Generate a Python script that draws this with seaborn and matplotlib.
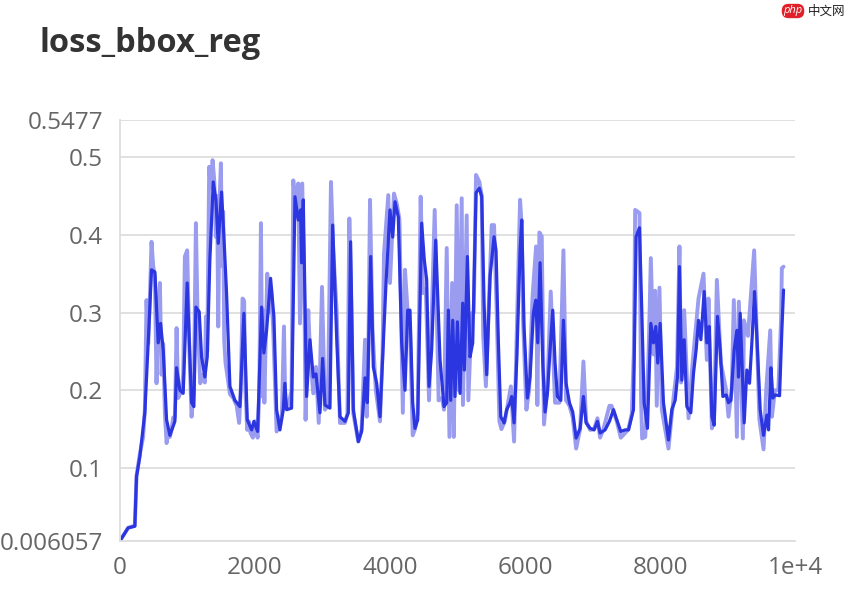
import numpy as np
import pandas as pd
import matplotlib
matplotlib.use("Agg")
import matplotlib.pyplot as plt
import seaborn as sns

# smoothed curve (step, value)
smooth_steps = [0, 123, 222, 247, 296, 370, 420, 469, 519, 568, 603, 642, 692, 741, 815, 840,
                889, 938, 997, 1062, 1096, 1126, 1175, 1210, 1259, 1294, 1333, 1383, 1422, 1457,
                1506, 1541, 1580, 1630, 1704, 1778, 1837, 1886, 1951, 1985, 2040, 2099, 2133, 2173,
                2232, 2281, 2321, 2370, 2420, 2444, 2469, 2543, 2593, 2642, 2677, 2691, 2716, 2765,
                2815, 2864, 2904, 2963, 3003, 3037, 3111, 3151, 3210, 3259, 3333, 3383, 3417, 3457,
                3531, 3580, 3630, 3664, 3714, 3753, 3803, 3852, 3941, 4000, 4040, 4074, 4123, 4173,
                4222, 4262, 4296, 4336, 4370, 4410, 4469, 4508, 4543, 4578, 4617, 4677, 4741, 4800,
                4840, 4864, 4899, 4929, 4963, 4998, 5037, 5077, 5101, 5146, 5185, 5225, 5274, 5323,
                5358, 5393, 5432, 5481, 5541, 5570, 5605, 5640, 5689, 5728, 5778, 5802, 5837, 5877,
                5926, 5951, 5985, 6034, 6074, 6123, 6158, 6188, 6222, 6262, 6296, 6331, 6370, 6410,
                6444, 6479, 6529, 6568, 6607, 6657, 6706, 6756, 6815, 6864, 6904, 6963, 7022, 7072,
                7111, 7185, 7249, 7309, 7358, 7417, 7481, 7531, 7605, 7644, 7694, 7728, 7763, 7812,
                7862, 7901, 7936, 7965, 8000, 8049, 8123, 8173, 8222, 8257, 8286, 8321, 8356, 8395,
                8454, 8494, 8533, 8568, 8603, 8652, 8691, 8726, 8766, 8800, 8849, 8889, 8929, 8978,
                9012, 9047, 9096, 9136, 9160, 9185, 9244, 9284, 9323, 9358, 9397, 9432, 9481, 9531,
                9580, 9605, 9640, 9669, 9704, 9768, 9802, 9827]
smooth_values = [0.006, 0.023, 0.025, 0.089, 0.1145, 0.171, 0.261, 0.355, 0.352, 0.261, 0.286, 0.252,
                 0.162, 0.142, 0.16, 0.229, 0.2, 0.196, 0.338, 0.184, 0.179, 0.307, 0.301, 0.243,
                 0.217, 0.243, 0.368, 0.468, 0.445, 0.389, 0.455, 0.397, 0.325, 0.205, 0.187, 0.179,
                 0.299, 0.162, 0.149, 0.16, 0.147, 0.307, 0.248, 0.277, 0.344, 0.295, 0.175, 0.149,
                 0.175, 0.209, 0.175, 0.177, 0.449, 0.419, 0.432, 0.364, 0.445, 0.192, 0.265, 0.217,
                 0.221, 0.171, 0.241, 0.181, 0.177, 0.4125, 0.269, 0.166, 0.16, 0.171, 0.391, 0.175,
                 0.134, 0.147, 0.216, 0.184, 0.372, 0.23, 0.209, 0.166, 0.338, 0.432, 0.397, 0.4425,
                 0.423, 0.261, 0.2, 0.303, 0.303, 0.184, 0.151, 0.162, 0.415, 0.3675, 0.342, 0.205,
                 0.252, 0.393, 0.239, 0.179, 0.184, 0.303, 0.187, 0.29, 0.192, 0.288, 0.196, 0.312,
                 0.226, 0.372, 0.243, 0.261, 0.454, 0.46, 0.449, 0.312, 0.22, 0.346, 0.3975, 0.38,
                 0.261, 0.166, 0.158, 0.175, 0.184, 0.192, 0.158, 0.239, 0.38, 0.419, 0.282, 0.19,
                 0.217, 0.299, 0.316, 0.261, 0.364, 0.235, 0.172, 0.196, 0.252, 0.303, 0.235, 0.192,
                 0.187, 0.29, 0.209, 0.184, 0.172, 0.1385, 0.151, 0.192, 0.158, 0.151, 0.149, 0.16,
                 0.145, 0.149, 0.16, 0.175, 0.162, 0.147, 0.149, 0.149, 0.175, 0.3975, 0.409, 0.303,
                 0.184, 0.151, 0.286, 0.261, 0.282, 0.235, 0.286, 0.184, 0.136, 0.175, 0.187, 0.217,
                 0.359, 0.213, 0.265, 0.179, 0.171, 0.222, 0.252, 0.29, 0.265, 0.327, 0.261, 0.282,
                 0.166, 0.155, 0.295, 0.252, 0.192, 0.194, 0.184, 0.187, 0.252, 0.277, 0.217, 0.299,
                 0.158, 0.226, 0.209, 0.261, 0.327, 0.269, 0.175, 0.142, 0.168, 0.149, 0.229, 0.19,
                 0.194, 0.193, 0.277, 0.329]

# raw (unsmoothed) curve
raw_steps = [0, 123, 222, 247, 296, 345, 370, 395, 420, 445, 469, 494, 519, 543, 568, 593, 618, 642,
             667, 692, 717, 741, 766, 790, 815, 840, 864, 889, 914, 938, 963, 997, 1030, 1062, 1096,
             1126, 1150, 1190, 1230, 1259, 1274, 1294, 1323, 1348, 1373, 1398, 1422, 1440, 1457, 1476,
             1496, 1516, 1530, 1545, 1565, 1590, 1630, 1680, 1730, 1766, 1790, 1817, 1840, 1860, 1886,
             1910, 1935, 1970, 2000, 2040, 2065, 2089, 2110, 2123, 2140, 2163, 2183, 2210, 2240, 2270,
             2321, 2360, 2400, 2430, 2450, 2494, 2543, 2568, 2600, 2642, 2667, 2701, 2735, 2750, 2790,
             2815, 2864, 2904, 2945, 2993, 3037, 3080, 3126, 3160, 3210, 3259, 3333, 3370, 3398, 3430,
             3457, 3531, 3580, 3630, 3655, 3680, 3704, 3740, 3790, 3852, 3890, 3911, 3975, 4000, 4059,
             4100, 4140, 4190, 4222, 4262, 4296, 4336, 4370, 4410, 4454, 4490, 4530, 4578, 4620, 4662,
             4720, 4770, 4800, 4840, 4880, 4920, 4945, 4988, 5020, 5062, 5080, 5136, 5160, 5210, 5240,
             5274, 5323, 5358, 5380, 5420, 5460, 5506, 5541, 5580, 5620, 5650, 5700, 5760, 5790, 5837,
             5870, 5926, 5951, 5970, 6020, 6060, 6110, 6163, 6182, 6212, 6247, 6280, 6331, 6380, 6444,
             6508, 6568, 6607, 6657, 6706, 6756, 6815, 6864, 6904, 6963, 7022, 7072, 7111, 7160, 7249,
             7280, 7358, 7417, 7481, 7531, 7580, 7610, 7630, 7694, 7718, 7733, 7780, 7830, 7862, 7901,
             7926, 7950, 7990, 8025, 8123, 8200, 8250, 8286, 8310, 8356, 8420, 8480, 8568, 8642, 8691,
             8716, 8766, 8800, 8840, 8899, 8978, 9012, 9060, 9091, 9136, 9165, 9225, 9240, 9300, 9392,
             9470, 9531, 9570, 9630, 9655, 9700, 9750, 9790, 9802, 9827]
raw_values = [0.006, 0.023, 0.026, 0.09, 0.118, 0.14, 0.175, 0.316, 0.26, 0.32, 0.391, 0.36, 0.345,
              0.209, 0.3, 0.338, 0.22, 0.26, 0.17, 0.132, 0.145, 0.14, 0.15, 0.165, 0.165, 0.28, 0.19,
              0.195, 0.2, 0.22, 0.372, 0.38, 0.25, 0.166, 0.2, 0.415, 0.3, 0.209, 0.22, 0.21, 0.295,
              0.25, 0.4875, 0.46, 0.496, 0.47, 0.3975, 0.45, 0.282, 0.44, 0.492, 0.36, 0.43, 0.265,
              0.235, 0.22, 0.195, 0.19, 0.18, 0.158, 0.2, 0.318, 0.315, 0.2, 0.149, 0.16, 0.145, 0.139,
              0.16, 0.139, 0.2, 0.415, 0.192, 0.303, 0.184, 0.28, 0.35, 0.3, 0.33, 0.28, 0.147, 0.155,
              0.17, 0.282, 0.18, 0.18, 0.2, 0.47, 0.44, 0.466, 0.286, 0.466, 0.3, 0.162, 0.303, 0.25,
              0.196, 0.23, 0.158, 0.333, 0.175, 0.18, 0.468, 0.38, 0.303, 0.158, 0.158, 0.17, 0.421,
              0.3, 0.17, 0.134, 0.15, 0.265, 0.166, 0.25, 0.445, 0.28, 0.2, 0.16, 0.25, 0.376, 0.451,
              0.338, 0.453, 0.44, 0.42, 0.171, 0.355, 0.3, 0.28, 0.142, 0.15, 0.17, 0.449, 0.325, 0.33,
              0.187, 0.3, 0.432, 0.187, 0.19, 0.175, 0.383, 0.14, 0.338, 0.14, 0.438, 0.2, 0.447, 0.181,
              0.425, 0.187, 0.299, 0.3, 0.477, 0.468, 0.45, 0.27, 0.205, 0.3, 0.4125, 0.4125, 0.3, 0.16,
              0.15, 0.16, 0.19, 0.205, 0.134, 0.25, 0.445, 0.41, 0.29, 0.175, 0.2, 0.32, 0.385, 0.181,
              0.403, 0.398, 0.156, 0.205, 0.327, 0.184, 0.184, 0.38, 0.187, 0.18, 0.165, 0.125, 0.15,
              0.237, 0.16, 0.149, 0.15, 0.164, 0.139, 0.15, 0.18, 0.18, 0.16, 0.139, 0.145, 0.15, 0.17,
              0.25, 0.432, 0.428, 0.187, 0.138, 0.14, 0.25, 0.37, 0.246, 0.328, 0.18, 0.332, 0.175,
              0.125, 0.192, 0.23, 0.385, 0.21, 0.303, 0.164, 0.235, 0.318, 0.35, 0.239, 0.318, 0.151,
              0.17, 0.342, 0.235, 0.2, 0.166, 0.2, 0.316, 0.14, 0.314, 0.138, 0.29, 0.27, 0.38, 0.162,
              0.124, 0.2, 0.277, 0.166, 0.2, 0.2, 0.29, 0.357, 0.359]

y_ticks = [0.006057, 0.1, 0.2, 0.3, 0.4, 0.5, 0.5477]
y_labels = ["0.006057", "0.1", "0.2", "0.3", "0.4", "0.5", "0.5477"]
x_ticks = [0, 2000, 4000, 6000, 8000, 10000]
x_labels = ["0", "2000", "4000", "6000", "8000", "1e+4"]

sns.set_style("white")
plt.rcParams['font.family'] = ['Open Sans', 'DejaVu Sans']

raw_df = pd.DataFrame({'step': raw_steps, 'value': raw_values})
smooth_df = pd.DataFrame({'step': smooth_steps, 'value': smooth_values})

fig = plt.figure(figsize=(8.56, 6.02), dpi=100)
ax = fig.add_axes([0.140, 0.1013, 0.789, 0.6994])

sns.lineplot(data=raw_df, x='step', y='value', ax=ax, color='#9a9cf0', linewidth=2.8,
             estimator=None, sort=False)
sns.lineplot(data=smooth_df, x='step', y='value', ax=ax, color='#2b36e0', linewidth=2.3,
             estimator=None, sort=False)

ax.set_xlim(0, 10000)
ax.set_ylim(0.006057, 0.5477)
ax.set_yticks(y_ticks)
ax.set_yticklabels(y_labels)
ax.set_xticks(x_ticks)
ax.set_xticklabels(x_labels)
ax.tick_params(axis='both', labelsize=17.5, colors='#666666', length=0)
ax.tick_params(axis='y', pad=12)
ax.tick_params(axis='x', pad=11)
ax.grid(axis='y', color='#dddddd', linewidth=1.3)
ax.set_axisbelow(True)
for side in ['top', 'right']:
    ax.spines[side].set_visible(False)
ax.spines['left'].set_color('#dddddd')
ax.spines['bottom'].set_color('#dddddd')
ax.spines['left'].set_linewidth(1.3)
ax.spines['bottom'].set_linewidth(1.3)
ax.set_xlabel('')
ax.set_ylabel('')

fig.text(40 / 856, 1 - 44 / 602, 'loss_bbox_reg', fontsize=23.5, fontweight='bold',
         color='#333333', va='center', ha='left')

# watermark
fig.text(793 / 856, 1 - 11 / 602, 'php', fontsize=8, style='italic', color='white',
         ha='center', va='center',
         bbox=dict(boxstyle='round,pad=0.15,rounding_size=0.6', fc='#e0202a', ec='none'))
fig.text(808 / 856, 1 - 11 / 602, '中文网', fontsize=9, color='#222222', ha='left', va='center',
         family=['Noto Sans CJK SC', 'DejaVu Sans'])

fig.savefig('out.png', dpi=100)
